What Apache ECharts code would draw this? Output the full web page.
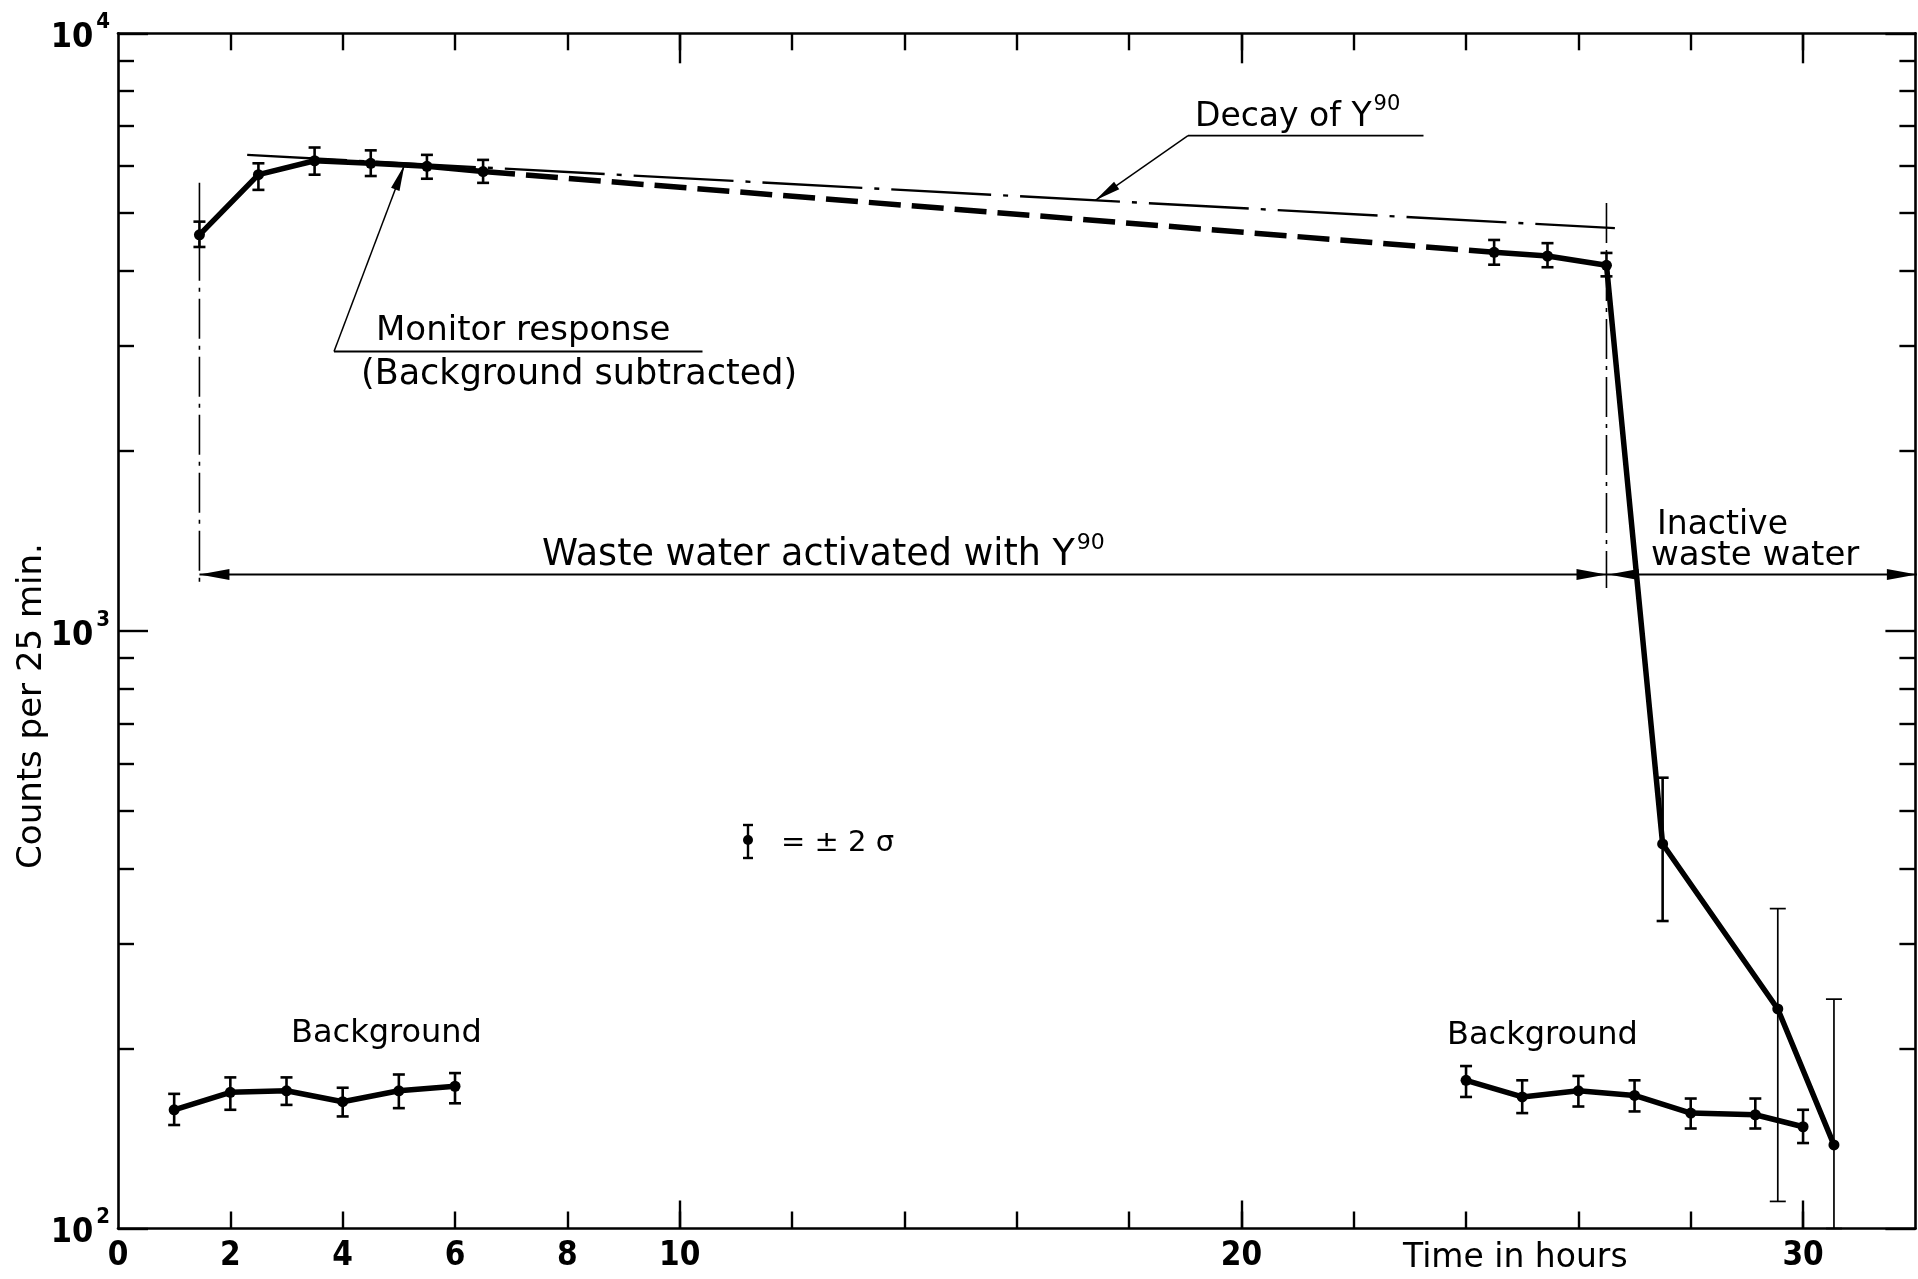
<!DOCTYPE html>
<html>
<head>
<meta charset="utf-8">
<script src="https://cdn.jsdelivr.net/npm/echarts@6/dist/echarts.min.js"></script>
<style>
html,body{margin:0;padding:0;background:#fff;}
#c{width:1918px;height:1279px;}
</style>
</head>
<body>
<div id="c"></div>
<script>
// ---------------- data ----------------
// Monitor response while activated waste water flows (hours, counts per 25 min)
const MON_EARLY_T  = [1.45, 2.5, 3.5, 4.5, 5.5, 6.5];
const MON_EARLY_C  = [4600, 5800, 6120, 6060, 5990, 5870];
const MON_EARLY_LO = [4390, 5470, 5800, 5770, 5710, 5620];
const MON_EARLY_HI = [4840, 6060, 6440, 6370, 6260, 6140];
// Monitor response at the end of the run and after switching to inactive water
const MON_LATE_T  = [24.5, 25.45, 26.5, 27.5, 29.55, 30.55];
const MON_LATE_C  = [4300, 4240, 4090, 440, 233, 138];
const MON_LATE_LO = [4100, 4060, 3920, 327, 111, 100];
const MON_LATE_HI = [4510, 4455, 4290, 568, 343, 242];
// Background measurements
const BG_EARLY_T  = [1, 2, 3, 4, 5, 6];
const BG_EARLY_C  = [158, 169, 170, 163, 170, 173];
const BG_EARLY_LO = [149, 158, 161, 154, 159, 162];
const BG_EARLY_HI = [168, 179, 179, 172, 181, 182];
const BG_LATE_T  = [24, 25, 26, 27, 28, 29.15, 30];
const BG_LATE_C  = [177, 166, 170, 167, 156, 155, 148];
const BG_LATE_LO = [166, 156, 160, 157, 147, 147, 139];
const BG_LATE_HI = [187, 177, 180, 177, 165, 165, 158];
// Decay of Y90 reference line (end points)
const DECAY_T = [2.3, 26.65];
const DECAY_C = [6260, 4720];
// Axis ticks and labels
const X_LABELS      = [0, 2, 4, 6, 8, 10, 20, 30];
const X_TICKS_MINOR = [2, 4, 6, 8, 10, 12, 14, 16, 18, 20, 22, 24, 26, 28, 30];
const X_TICKS_MAJOR = [10, 20, 30];
const Y_TICKS_MINOR = [200, 300, 400, 500, 600, 700, 800, 900, 2000, 3000, 4000, 5000, 6000, 7000, 8000, 9000];
// Annotation anchors (data space)
const PERIOD_T = [1.45, 26.5];          // start / end of the activated period
const PERIOD_TOP = [5620, 5200];
const PERIOD_BOTTOM = [1185, 1180];
const PERIOD_ARROW_C = 1243;
const DECAY_POINTER_T = 17.4;
const MONITOR_POINTER_T = 5.1;

// ---------------- chart ----------------
const BLACK = '#000';
const TICK_FONT = "'Liberation Sans Narrow', 'DejaVu Sans Condensed', 'Liberation Sans', sans-serif";
const ANN_FONT = "'DejaVu Sans', sans-serif";
const zip = (a, b) => a.map((v, i) => [v, b[i]]);

const chart = echarts.init(document.getElementById('c'), null, {renderer: 'canvas', width: 1918, height: 1279});

const axisLineStyle = {color: BLACK, width: 2.6};
const tickStyle = {color: BLACK, width: 2.4};

function xAxisDef(pos, ticks, len, withLine, withLabels) {
  return {
    type: 'value', min: 0, max: 32, position: pos, gridIndex: 0,
    axisLine: {show: withLine, onZero: false, lineStyle: axisLineStyle},
    axisTick: {show: true, inside: true, length: len, lineStyle: tickStyle, customValues: ticks},
    axisLabel: withLabels ? {
      show: true, margin: 11, customValues: X_LABELS, color: BLACK,
      fontSize: 33, fontWeight: 'bold', fontFamily: TICK_FONT, formatter: v => String(v)
    } : {show: false},
    splitLine: {show: false}, minorTick: {show: false}
  };
}
function yLogDef(pos, withLabels) {
  return {
    type: 'log', logBase: 10, min: 100, max: 10000, position: pos, gridIndex: 0,
    axisLine: {show: true, onZero: false, lineStyle: axisLineStyle},
    axisTick: {show: true, inside: true, length: 30, lineStyle: tickStyle},
    axisLabel: withLabels ? {
      show: true, margin: 8, color: BLACK,
      formatter: v => '{b|10}{s|' + Math.round(Math.log10(v)) + '}',
      rich: {
        b: {fontSize: 34, fontWeight: 'bold', fontFamily: TICK_FONT, color: BLACK, lineHeight: 44, verticalAlign: 'bottom'},
        s: {fontSize: 22, fontWeight: 'bold', fontFamily: TICK_FONT, color: BLACK, lineHeight: 22, verticalAlign: 'top', padding: [0, 0, 0, 3]}
      }
    } : {show: false},
    splitLine: {show: false}, minorTick: {show: false}
  };
}
function yMinorDef(pos) {
  return {
    type: 'value', min: 2, max: 4, position: pos, gridIndex: 0,
    axisLine: {show: false, onZero: false},
    axisTick: {show: true, inside: true, length: 16, lineStyle: tickStyle,
               customValues: Y_TICKS_MINOR.map(v => Math.log10(v))},
    axisLabel: {show: false}, splitLine: {show: false}
  };
}

const lineBase = {
  type: 'line', xAxisIndex: 0, yAxisIndex: 0, symbol: 'circle', symbolSize: 11,
  itemStyle: {color: BLACK}, lineStyle: {color: BLACK, width: 5.5}, silent: true, z: 5
};

function errSeries(name, T, LO, HI, capHalf, width) {
  return {
    type: 'custom', name: name, xAxisIndex: 0, yAxisIndex: 0, silent: true, z: 6,
    data: T.map((t, i) => [t, LO[i], HI[i]]),
    encode: {x: 0, y: [1, 2]},
    renderItem: function (params, api) {
      const x = api.value(0);
      const lo = api.coord([x, api.value(1)]);
      const hi = api.coord([x, api.value(2)]);
      const s = {stroke: BLACK, lineWidth: width};
      return {type: 'group', children: [
        {type: 'line', shape: {x1: lo[0], y1: lo[1], x2: hi[0], y2: hi[1]}, style: s},
        {type: 'line', shape: {x1: lo[0] - capHalf, y1: lo[1], x2: lo[0] + capHalf, y2: lo[1]}, style: s},
        {type: 'line', shape: {x1: hi[0] - capHalf, y1: hi[1], x2: hi[0] + capHalf, y2: hi[1]}, style: s}
      ]};
    }
  };
}

const nEarly = MON_EARLY_T.length;
const thickLateIdx = [0, 1, 2, 3];
const thinLateIdx = [4, 5];
const pick = (arr, idx) => idx.map(i => arr[i]);

chart.setOption({
  animation: false,
  backgroundColor: '#fff',
  grid: {left: 118, right: 2.6, top: 33.3, bottom: 50.5, containLabel: false, outerBoundsMode: 'none'},
  xAxis: [
    xAxisDef('bottom', X_TICKS_MINOR, 17, true, true),
    xAxisDef('bottom', X_TICKS_MAJOR, 28, false, false),
    xAxisDef('top', X_TICKS_MINOR, 17, true, false),
    xAxisDef('top', X_TICKS_MAJOR, 30, false, false)
  ],
  yAxis: [
    yLogDef('left', true),
    yLogDef('right', false),
    yMinorDef('left'),
    yMinorDef('right')
  ],
  series: [
    Object.assign({}, lineBase, {name: 'Monitor response', data: zip(MON_EARLY_T, MON_EARLY_C)}),
    Object.assign({}, lineBase, {
      name: 'Monitor response (between runs)', symbol: 'none',
      data: [[MON_EARLY_T[nEarly - 1], MON_EARLY_C[nEarly - 1]], [MON_LATE_T[0], MON_LATE_C[0]]],
      lineStyle: {color: BLACK, width: 5.5, type: [32, 11]}
    }),
    Object.assign({}, lineBase, {name: 'Monitor response (late)', data: zip(MON_LATE_T, MON_LATE_C)}),
    Object.assign({}, lineBase, {name: 'Background (early)', data: zip(BG_EARLY_T, BG_EARLY_C)}),
    Object.assign({}, lineBase, {name: 'Background (late)', data: zip(BG_LATE_T, BG_LATE_C)}),
    {
      type: 'line', name: 'Decay of Y90', xAxisIndex: 0, yAxisIndex: 0, symbol: 'none', silent: true, z: 4,
      data: zip(DECAY_T, DECAY_C),
      lineStyle: {color: BLACK, width: 2.4, type: [100, 12, 5, 12]}
    },
    errSeries('err monitor early', MON_EARLY_T, MON_EARLY_LO, MON_EARLY_HI, 6, 2.6),
    errSeries('err monitor late', pick(MON_LATE_T, thickLateIdx), pick(MON_LATE_LO, thickLateIdx), pick(MON_LATE_HI, thickLateIdx), 6, 2.6),
    errSeries('err monitor inactive', pick(MON_LATE_T, thinLateIdx), pick(MON_LATE_LO, thinLateIdx), pick(MON_LATE_HI, thinLateIdx), 8, 1.7),
    errSeries('err bg early', BG_EARLY_T, BG_EARLY_LO, BG_EARLY_HI, 6, 2.6),
    errSeries('err bg late', BG_LATE_T, BG_LATE_LO, BG_LATE_HI, 6, 2.6)
  ]
});

// ---------------- annotations ----------------
const P = (t, c) => chart.convertToPixel({xAxisIndex: 0, yAxisIndex: 0}, [t, c]);
const mctx = document.createElement('canvas').getContext('2d');
function tw(str, size) { mctx.font = size + 'px ' + ANN_FONT; return mctx.measureText(str).width; }
function logInterp(T, C, t) {
  for (let i = 0; i < T.length - 1; i++) {
    if (t >= T[i] && t <= T[i + 1]) {
      const f = (t - T[i]) / (T[i + 1] - T[i]);
      return Math.pow(10, Math.log10(C[i]) + f * (Math.log10(C[i + 1]) - Math.log10(C[i])));
    }
  }
  return C[C.length - 1];
}

const G = [];
function seg(p1, p2, w, dash) {
  G.push({type: 'line', silent: true, z: 10,
    shape: {x1: p1[0], y1: p1[1], x2: p2[0], y2: p2[1]},
    style: {stroke: BLACK, lineWidth: w, lineDash: dash || null}});
}
function head(tip, from, len, hw) {
  const dx = tip[0] - from[0], dy = tip[1] - from[1];
  const L = Math.hypot(dx, dy), ux = dx / L, uy = dy / L;
  const bx = tip[0] - ux * len, by = tip[1] - uy * len;
  G.push({type: 'polygon', silent: true, z: 10,
    shape: {points: [[tip[0], tip[1]], [bx - uy * hw, by + ux * hw], [bx + uy * hw, by - ux * hw]]},
    style: {fill: BLACK}});
}
function txt(str, x, y, size, extra) {
  G.push(Object.assign({type: 'text', x: x, y: y, silent: true, z: 10,
    style: {text: str, fill: BLACK, fontSize: size, fontFamily: ANN_FONT,
            align: 'left', verticalAlign: 'middle', textAlign: 'left', textVerticalAlign: 'middle'}}, extra || {}));
}
function supText(main, sup, x, y, size, supSize, supDy) {
  txt(main, x, y, size);
  txt(sup, x + tw(main, size) + 2, y + supDy, supSize);
}

// activated-period boundaries
for (let i = 0; i < PERIOD_T.length; i++) {
  seg(P(PERIOD_T[i], PERIOD_TOP[i]), P(PERIOD_T[i], PERIOD_BOTTOM[i]), 1.6, [40, 7, 4, 7]);
}
// period arrows
const a1 = P(PERIOD_T[0], PERIOD_ARROW_C), a2 = P(PERIOD_T[1], PERIOD_ARROW_C);
const a3 = [P(32, PERIOD_ARROW_C)[0] + 1.5, a2[1]];
seg(a1, a2, 2);
head(a1, a2, 30, 5.5);
head(a2, a1, 30, 5.5);
seg(a2, a3, 2);
head([a2[0] + 2, a2[1]], a3, 30, 5.5);
head(a3, a2, 30, 5.5);

// Decay of Y90 pointer
const dTip = P(DECAY_POINTER_T, logInterp(DECAY_T, DECAY_C, DECAY_POINTER_T));
const dUL = [1188, 135.7], dUR = [1423.5, 135.7];
seg(dUL, dUR, 1.8);
seg(dUL, dTip, 1.5);
head(dTip, dUL, 26, 4.5);
supText('Decay of Y', '90', 1195, 117, 33, 21, -12);

// Monitor response pointer
const mTip = P(MONITOR_POINTER_T, logInterp(MON_EARLY_T, MON_EARLY_C, MONITOR_POINTER_T));
const mUL = [334, 351.5], mUR = [702.5, 351.5];
seg(mUL, mUR, 1.8);
seg(mUL, mTip, 1.5);
head(mTip, mUL, 26, 4.5);
txt('Monitor response', 376, 331, 34);
txt('(Background subtracted)', 361, 375, 35);

// period labels
supText('Waste water activated with Y', '90', 542, 556, 36.5, 22, -13);
txt('Inactive', 1657, 525, 33);
txt('waste water', 1651, 556, 34);

// background labels
txt('Background', 291, 1033.5, 32);
txt('Background', 1447, 1035.5, 32);

// x-axis title
txt('Time in hours', 1403, 1258, 33);

// y-axis title
G.push({type: 'text', x: 32, y: 706, rotation: Math.PI / 2, silent: true, z: 10,
  style: {text: 'Counts per 25 min.', fill: BLACK, fontSize: 34, fontFamily: ANN_FONT,
          align: 'center', verticalAlign: 'middle', textAlign: 'center', textVerticalAlign: 'middle'}});

// error-bar key
seg([748, 825], [748, 858], 2.4);
seg([743, 825], [753, 825], 2.4);
seg([743, 858], [753, 858], 2.4);
G.push({type: 'circle', silent: true, z: 10, shape: {cx: 748, cy: 840, r: 5}, style: {fill: BLACK}});
txt('= ± 2 σ', 781, 843, 29);

chart.setOption({graphic: {elements: G}});
</script>
</body>
</html>
